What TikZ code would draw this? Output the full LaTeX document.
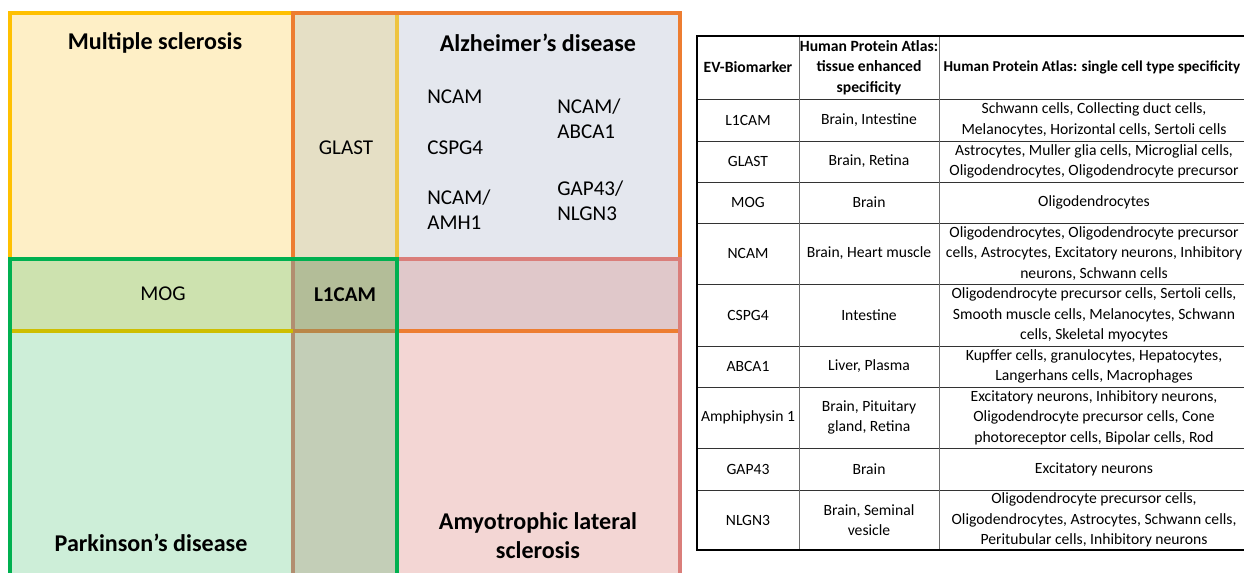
\documentclass[tikz,border=0pt]{standalone}
\usepackage{fontspec}
\setmainfont{Carlito}
\usepackage{xcolor}
\definecolor{msfill}{RGB}{254,239,198}
\definecolor{glastfill}{RGB}{229,223,197}
\definecolor{adfill}{RGB}{228,231,238}
\definecolor{mogfill}{RGB}{205,226,175}
\definecolor{lonefill}{RGB}{179,189,152}
\definecolor{mixfill}{RGB}{224,200,202}
\definecolor{pdfill}{RGB}{205,238,216}
\definecolor{lowfill}{RGB}{195,206,183}
\definecolor{alsfill}{RGB}{243,214,212}
\definecolor{msbd}{RGB}{255,192,0}
\definecolor{msbdlight}{RGB}{238,196,64}
\definecolor{adbd}{RGB}{237,125,49}
\definecolor{pdbd}{RGB}{0,176,80}
\definecolor{alsbd}{RGB}{218,126,122}
\definecolor{brownbd}{RGB}{178,142,112}
\definecolor{mogbd}{RGB}{206,190,0}
\definecolor{orbrownbd}{RGB}{186,134,72}
\definecolor{gridgray}{RGB}{110,110,110}

\begin{document}
\begin{tikzpicture}[
    x=0.02cm, y=-0.02cm,
    disease/.style  = {align=center, font=\bfseries\fontsize{13.7}{16.4}\selectfont},
    markertxt/.style = {align=left, font=\fontsize{12}{14.2}\selectfont, inner sep=0pt},
    zoneline/.style = {line width=1.8pt},
    tabcell/.style  = {align=center, font=\fontsize{8.9}{11.6}\selectfont, inner sep=0pt},
    tabhead/.style  = {tabcell, font=\bfseries\fontsize{8.9}{11.6}\selectfont},
    tabline/.style  = {line width=0.5pt, color=gridgray},
]
\useasboundingbox (0,0) rectangle (1244,573);
\clip (0,0) rectangle (1244,573);

% ── Overlapping zones ───────────────────────────────────────────
\fill[msfill]    (10,13)  rectangle (293,259);
\fill[glastfill] (293,13) rectangle (397,259);
\fill[adfill]    (397,13) rectangle (680,259);
\fill[mogfill]   (10,259) rectangle (293,331);
\fill[lonefill]  (293,259) rectangle (397,331);
\fill[mixfill]   (397,259) rectangle (680,331);
\fill[pdfill]    (10,331) rectangle (293,590);
\fill[lowfill]   (293,331) rectangle (397,590);
\fill[alsfill]   (397,331) rectangle (680,590);

% ── Zone borders ────────────────────────────────────────────────
\draw[zoneline, msbd] (293,13) -- (10,13) -- (10,259);
\draw[zoneline, msbdlight] (397,13) -- (397,259);
\draw[zoneline, adbd] (293,259) -- (293,13) -- (680,13) -- (680,259);
\draw[zoneline, adbd] (397,331) -- (680,331);
\draw[zoneline, alsbd] (397,259) -- (680,259) -- (680,590);
\draw[zoneline, brownbd] (293,259) -- (293,590);
\draw[zoneline, mogbd] (10,331) -- (293,331);
\draw[zoneline, orbrownbd] (293,331) -- (397,331);
\draw[zoneline, pdbd] (10,590) -- (10,259) -- (397,259) -- (397,590);

% ── Zone labels ─────────────────────────────────────────────────
\node[disease] (ms) at (155,43) {Multiple sclerosis};
\node[disease] (ad) at (538,43) {Alzheimer’s disease};
\node[disease] (pd) at (151,543) {Parkinson’s disease};
\node[disease] (als) at (538,536) {Amyotrophic lateral\\sclerosis};

\node[markertxt, align=center] (glast) at (346,148) {GLAST};
\node[markertxt, align=center] (mog) at (163,294) {MOG};
\node[markertxt, font=\bfseries\fontsize{12}{14.2}\selectfont] (lone) at (345,295) {L1CAM};

\node[markertxt, anchor=west] (adncam) at (427,97) {NCAM};
\node[markertxt, anchor=west] (adcspg) at (427,148) {CSPG4};
\node[markertxt, anchor=west] (adamh) at (427,210) {NCAM/\\AMH1};
\node[markertxt, anchor=west] (adabca) at (557,119) {NCAM/\\ABCA1};
\node[markertxt, anchor=west] (adgap) at (557,201) {GAP43/\\NLGN3};

% ── Table grid ──────────────────────────────────────────────────
\foreach \yrow in {99,141,182,223,284,346,387,448,490}
    \draw[tabline, black!80] (697,\yrow) -- (1250,\yrow);
\draw[tabline] (799,36) -- (799,550);
\draw[tabline] (939,36) -- (939,550);
\draw[line width=0.9pt] (697,36) rectangle (1250,550);

% ── Table header ────────────────────────────────────────────────
\node[tabhead] (hbio) at (748,67.5) {EV-Biomarker};
\node[tabhead] (htis) at (869,67.5) {Human Protein Atlas:\\tissue enhanced\\specificity};
\node[tabhead, font=\bfseries\fontsize{8.6}{11.6}\selectfont] (hcel) at (1092,67.5)
    {Human Protein Atlas: single cell type specificity};

% ── Table rows ──────────────────────────────────────────────────
\node[tabcell] (bl1) at (748,120) {L1CAM};
\node[tabcell] (tl1) at (869,120) {Brain, Intestine};
\node[tabcell] (cl1) at (1094,120) {Schwann cells, Collecting duct cells,\\Melanocytes, Horizontal cells, Sertoli cells};

\node[tabcell] (bgl) at (748,161.5) {GLAST};
\node[tabcell] (tgl) at (869,161.5) {Brain, Retina};
\node[tabcell] (cgl) at (1094,161.5) {Astrocytes, Muller glia cells, Microglial cells,\\Oligodendrocytes, Oligodendrocyte precursor};

\node[tabcell] (bmo) at (748,202.5) {MOG};
\node[tabcell] (tmo) at (869,202.5) {Brain};
\node[tabcell] (cmo) at (1094,202.5) {Oligodendrocytes};

\node[tabcell] (bnc) at (748,253.5) {NCAM};
\node[tabcell] (tnc) at (869,253.5) {Brain, Heart muscle};
\node[tabcell] (cnc) at (1094,253.5) {Oligodendrocytes, Oligodendrocyte precursor\\cells, Astrocytes, Excitatory neurons, Inhibitory\\neurons, Schwann cells};

\node[tabcell] (bcs) at (748,315) {CSPG4};
\node[tabcell] (tcs) at (869,315) {Intestine};
\node[tabcell] (ccs) at (1094,315) {Oligodendrocyte precursor cells, Sertoli cells,\\Smooth muscle cells, Melanocytes, Schwann\\cells, Skeletal myocytes};

\node[tabcell] (bab) at (748,366.5) {ABCA1};
\node[tabcell] (tab) at (869,366.5) {Liver, Plasma};
\node[tabcell] (cab) at (1094,366.5) {Kupffer cells, granulocytes, Hepatocytes,\\Langerhans cells, Macrophages};

\node[tabcell] (bam) at (748,417.5) {Amphiphysin 1};
\node[tabcell] (tam) at (869,417.5) {Brain, Pituitary\\gland, Retina};
\node[tabcell] (cam) at (1094,417.5) {Excitatory neurons, Inhibitory neurons,\\Oligodendrocyte precursor cells, Cone\\photoreceptor cells, Bipolar cells, Rod};

\node[tabcell] (bga) at (748,469) {GAP43};
\node[tabcell] (tga) at (869,469) {Brain};
\node[tabcell] (cga) at (1094,469) {Excitatory neurons};

\node[tabcell] (bnl) at (748,520) {NLGN3};
\node[tabcell] (tnl) at (869,520) {Brain, Seminal\\vesicle};
\node[tabcell] (cnl) at (1094,520) {Oligodendrocyte precursor cells,\\Oligodendrocytes, Astrocytes, Schwann cells,\\Peritubular cells, Inhibitory neurons};

\end{tikzpicture}
\end{document}
